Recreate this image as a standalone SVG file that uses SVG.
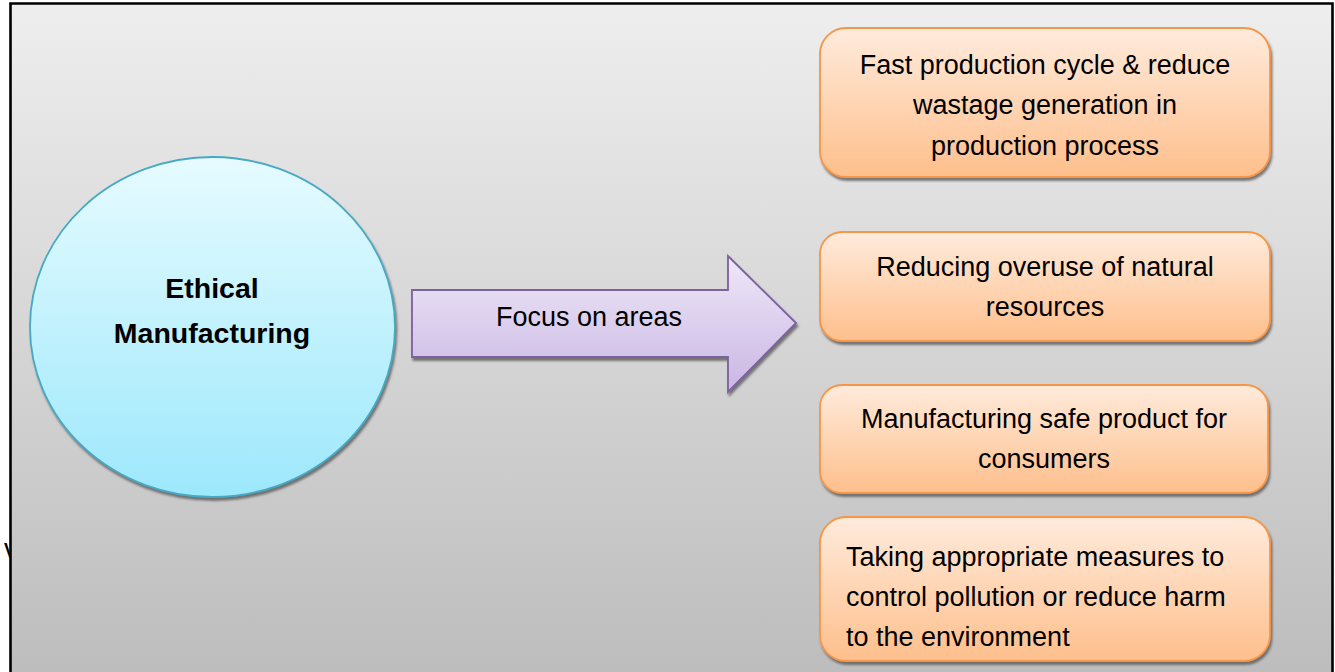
<svg xmlns="http://www.w3.org/2000/svg" width="1335" height="672" viewBox="0 0 1335 672">
  <defs>
    <linearGradient id="bg" x1="0" y1="0" x2="0" y2="1">
      <stop offset="0" stop-color="#eeeeee"/>
      <stop offset="1" stop-color="#bcbcbc"/>
    </linearGradient>
    <linearGradient id="blueFill" x1="0" y1="0" x2="0" y2="1">
      <stop offset="0" stop-color="#e6fbff"/>
      <stop offset="1" stop-color="#9de8fc"/>
    </linearGradient>
    <linearGradient id="violetFill" x1="0" y1="0" x2="0" y2="1">
      <stop offset="0" stop-color="#efe8f8"/>
      <stop offset="1" stop-color="#c9b6e3"/>
    </linearGradient>
    <linearGradient id="orangeFill" x1="0" y1="0" x2="0" y2="1">
      <stop offset="0" stop-color="#ffebdc"/>
      <stop offset="1" stop-color="#febf8c"/>
    </linearGradient>
    <filter id="shadow" x="-10%" y="-10%" width="120%" height="130%">
      <feDropShadow dx="1.5" dy="3" stdDeviation="0.8" flood-color="#555555" flood-opacity="0.75"/>
    </filter>
    <style>
      .txt { font-family: "Liberation Sans", Arial, sans-serif; font-size: 27px; fill: #000; }
      .mid { text-anchor: middle; }
      .bold { font-weight: bold; font-size: 28.5px; }
      .box { fill: url(#orangeFill); stroke: #f79646; stroke-width: 1.8; filter: url(#shadow); }
    </style>
  </defs>

  <!-- page and framed panel -->
  <rect x="0" y="0" width="1335" height="672" fill="#ffffff"/>
  <text class="txt" x="4" y="558" font-size="21">v</text>
  <rect x="11" y="4" width="1321" height="680" fill="url(#bg)"/>
  <path d="M10.5 672 V3.5 H1332.5 V672" fill="none" stroke="#000000" stroke-width="2.6"/>

  <!-- centre topic -->
  <g id="ethical-manufacturing">
    <ellipse cx="212.5" cy="327" rx="182.5" ry="170" fill="url(#blueFill)" stroke="#46a9c4" stroke-width="1.8" filter="url(#shadow)"/>
    <text class="txt mid bold" x="212" y="298">Ethical</text>
    <text class="txt mid bold" x="212" y="343">Manufacturing</text>
  </g>

  <!-- block arrow -->
  <g id="connectors">
    <g id="focus-arrow">
      <path d="M412 290 H728 V256 L796 323 L728 392 V357 H412 Z" fill="url(#violetFill)" stroke="#7d60a0" stroke-width="1.8" stroke-linejoin="miter" filter="url(#shadow)"/>
      <text class="txt mid" x="589" y="326" font-size="27.5">Focus on areas</text>
    </g>
  </g>

  <!-- focus areas -->
  <g id="area-production">
    <rect class="box" x="820" y="28" width="450" height="149" rx="26"/>
    <text class="txt mid" x="1045" y="74">Fast production cycle &amp; reduce</text>
    <text class="txt mid" x="1045" y="114">wastage generation in</text>
    <text class="txt mid" x="1045" y="155">production process</text>
  </g>

  <g id="area-resources">
    <rect class="box" x="820" y="232" width="450" height="109" rx="22"/>
    <text class="txt mid" x="1045" y="276">Reducing overuse of natural</text>
    <text class="txt mid" x="1045" y="316">resources</text>
  </g>

  <g id="area-safety">
    <rect class="box" x="820" y="385" width="448" height="108" rx="22"/>
    <text class="txt mid" x="1044" y="428">Manufacturing safe product for</text>
    <text class="txt mid" x="1044" y="468">consumers</text>
  </g>

  <g id="area-pollution">
    <rect class="box" x="820" y="517" width="450" height="144" rx="26"/>
    <text class="txt" x="846" y="566">Taking appropriate measures to</text>
    <text class="txt" x="846" y="606">control pollution or reduce harm</text>
    <text class="txt" x="846" y="646">to the environment</text>
  </g>
</svg>
